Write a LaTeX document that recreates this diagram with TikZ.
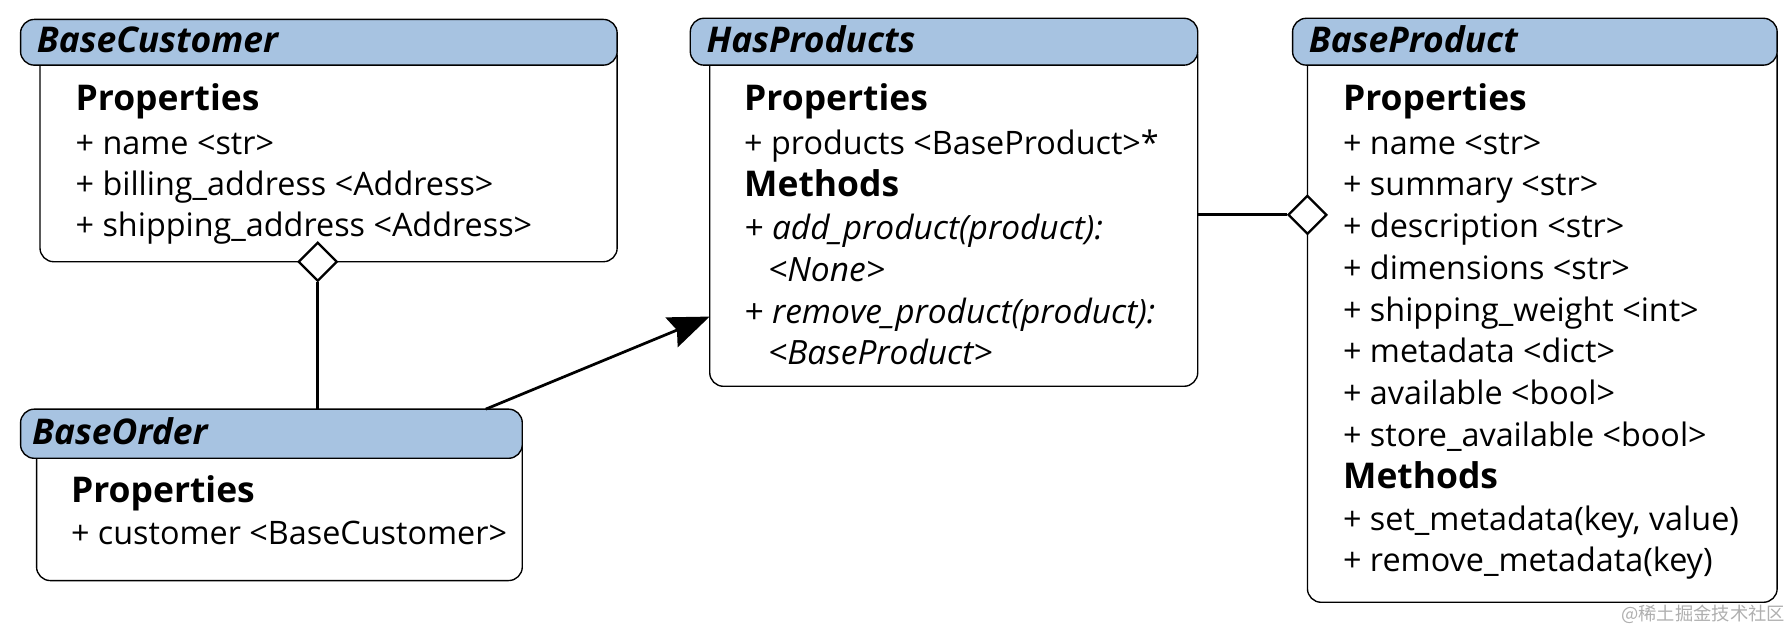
\documentclass[tikz,border=0pt]{standalone}
\usepackage{fontspec}
\setmainfont{Open Sans}
\newfontfamily\cjkwm{Noto Sans CJK SC}
\usetikzlibrary{shapes.geometric,arrows.meta}
\definecolor{hdrblue}{RGB}{167,195,225}
\definecolor{wmgray}{RGB}{175,175,175}
\tikzset{
  x=1pt,y=-1pt,
  hdr/.style={draw,line width=1.2pt,fill=hdrblue,rounded corners=12pt},
  bodybox/.style={draw,line width=1.2pt,fill=white,rounded corners=12pt},
  ttl/.style={anchor=base west,inner sep=0pt,font=\fontsize{31}{33}\selectfont\bfseries\itshape},
  sect/.style={anchor=base west,inner sep=0pt,font=\fontsize{31}{33}\selectfont\bfseries},
  entry/.style={anchor=base west,inner sep=0pt,font=\fontsize{28.3}{30}\selectfont},
  ientry/.style={entry,font=\fontsize{29.3}{31}\selectfont\itshape},
  agg/.style={draw,diamond,shape aspect=1,minimum width=34pt,minimum height=34pt,inner sep=0pt,line width=2pt,fill=white},
  conn/.style={line width=2.4pt},
}
\begin{document}
\begin{tikzpicture}
\useasboundingbox (0,0) rectangle (1568,548);
% ---------- BaseCustomer ----------
\draw[bodybox] (35,37) rectangle (540,229);
\draw[hdr] (18,17) rectangle (540,57);
\node[ttl] (bcT) at (32,46) {BaseCustomer};
\node[sect] (bcP) at (66,97) {Properties};
\foreach \t [count=\i] in {{+ name <str>},{+ billing\_address <Address>},{+ shipping\_address <Address>}}
  \node[entry] (bc\i) at (66,{135+36*(\i-1)}) {\t};
\coordinate (bcBottom) at (278,229);
% ---------- BaseOrder ----------
\draw[bodybox] (32,380) rectangle (457,508);
\draw[hdr] (18,358) rectangle (457,401);
\node[ttl] (boT) at (28,389) {BaseOrder};
\node[sect] (boP) at (62,440) {Properties};
\node[entry] (bo1) at (62,476) {+ customer <BaseCustomer>};
\coordinate (boTopA) at (278,358);
\coordinate (boTopB) at (425,358);
% ---------- HasProducts ----------
\draw[bodybox] (621,37) rectangle (1048,338);
\draw[hdr] (604,16) rectangle (1048,57);
\node[ttl] (hpT) at (618,46) {HasProducts};
\node[sect] (hpP) at (651,97) {Properties};
\node[entry] (hp1) at (651,135) {+ products <BaseProduct>*};
\node[sect] (hpM) at (651,172) {Methods};
\node[ientry] (hp2) at (651,210) {+ add\_product(product):};
\node[ientry] (hp3) at (672,246) {<None>};
\node[ientry] (hp4) at (651,283) {+ remove\_product(product):};
\node[ientry] (hp5) at (672,319) {<BaseProduct>};
\coordinate (hpLeft) at (621,277);
\coordinate (hpRight) at (1048,188);
% ---------- BaseProduct ----------
\draw[bodybox] (1144,37) rectangle (1555,527);
\draw[hdr] (1131,16) rectangle (1555,57);
\node[ttl] (bpT) at (1145,46) {BaseProduct};
\node[sect] (bpP) at (1175,97) {Properties};
\foreach \t [count=\i] in {{+ name <str>},{+ summary <str>},{+ description <str>},{+ dimensions <str>},{+ shipping\_weight <int>},{+ metadata <dict>},{+ available <bool>},{+ store\_available <bool>}}
  \node[entry] (bp\i) at (1175,{135+36.5*(\i-1)}) {\t};
\node[sect] (bpM) at (1175,427) {Methods};
\node[entry] (bpm1) at (1175,464) {+ set\_metadata(key, value)};
\node[entry] (bpm2) at (1175,500) {+ remove\_metadata(key)};
% ---------- connectors ----------
\node[agg] (dC) at (bcBottom) {};
\draw[conn] (dC.south) -- (boTopA);
\node[agg] (dP) at (1144,188) {};
\draw[conn] (hpRight) -- (dP.west);
\draw[conn,-{Stealth[length=36pt,width=28pt,inset=5pt]}] (boTopB) -- (hpLeft);
% ---------- watermark ----------
\node[anchor=base east,inner sep=0pt,text=wmgray,font=\cjkwm\fontsize{16}{18}\selectfont] (wm) at (1562,543) {@稀土掘金技术社区};
\end{tikzpicture}
\end{document}
